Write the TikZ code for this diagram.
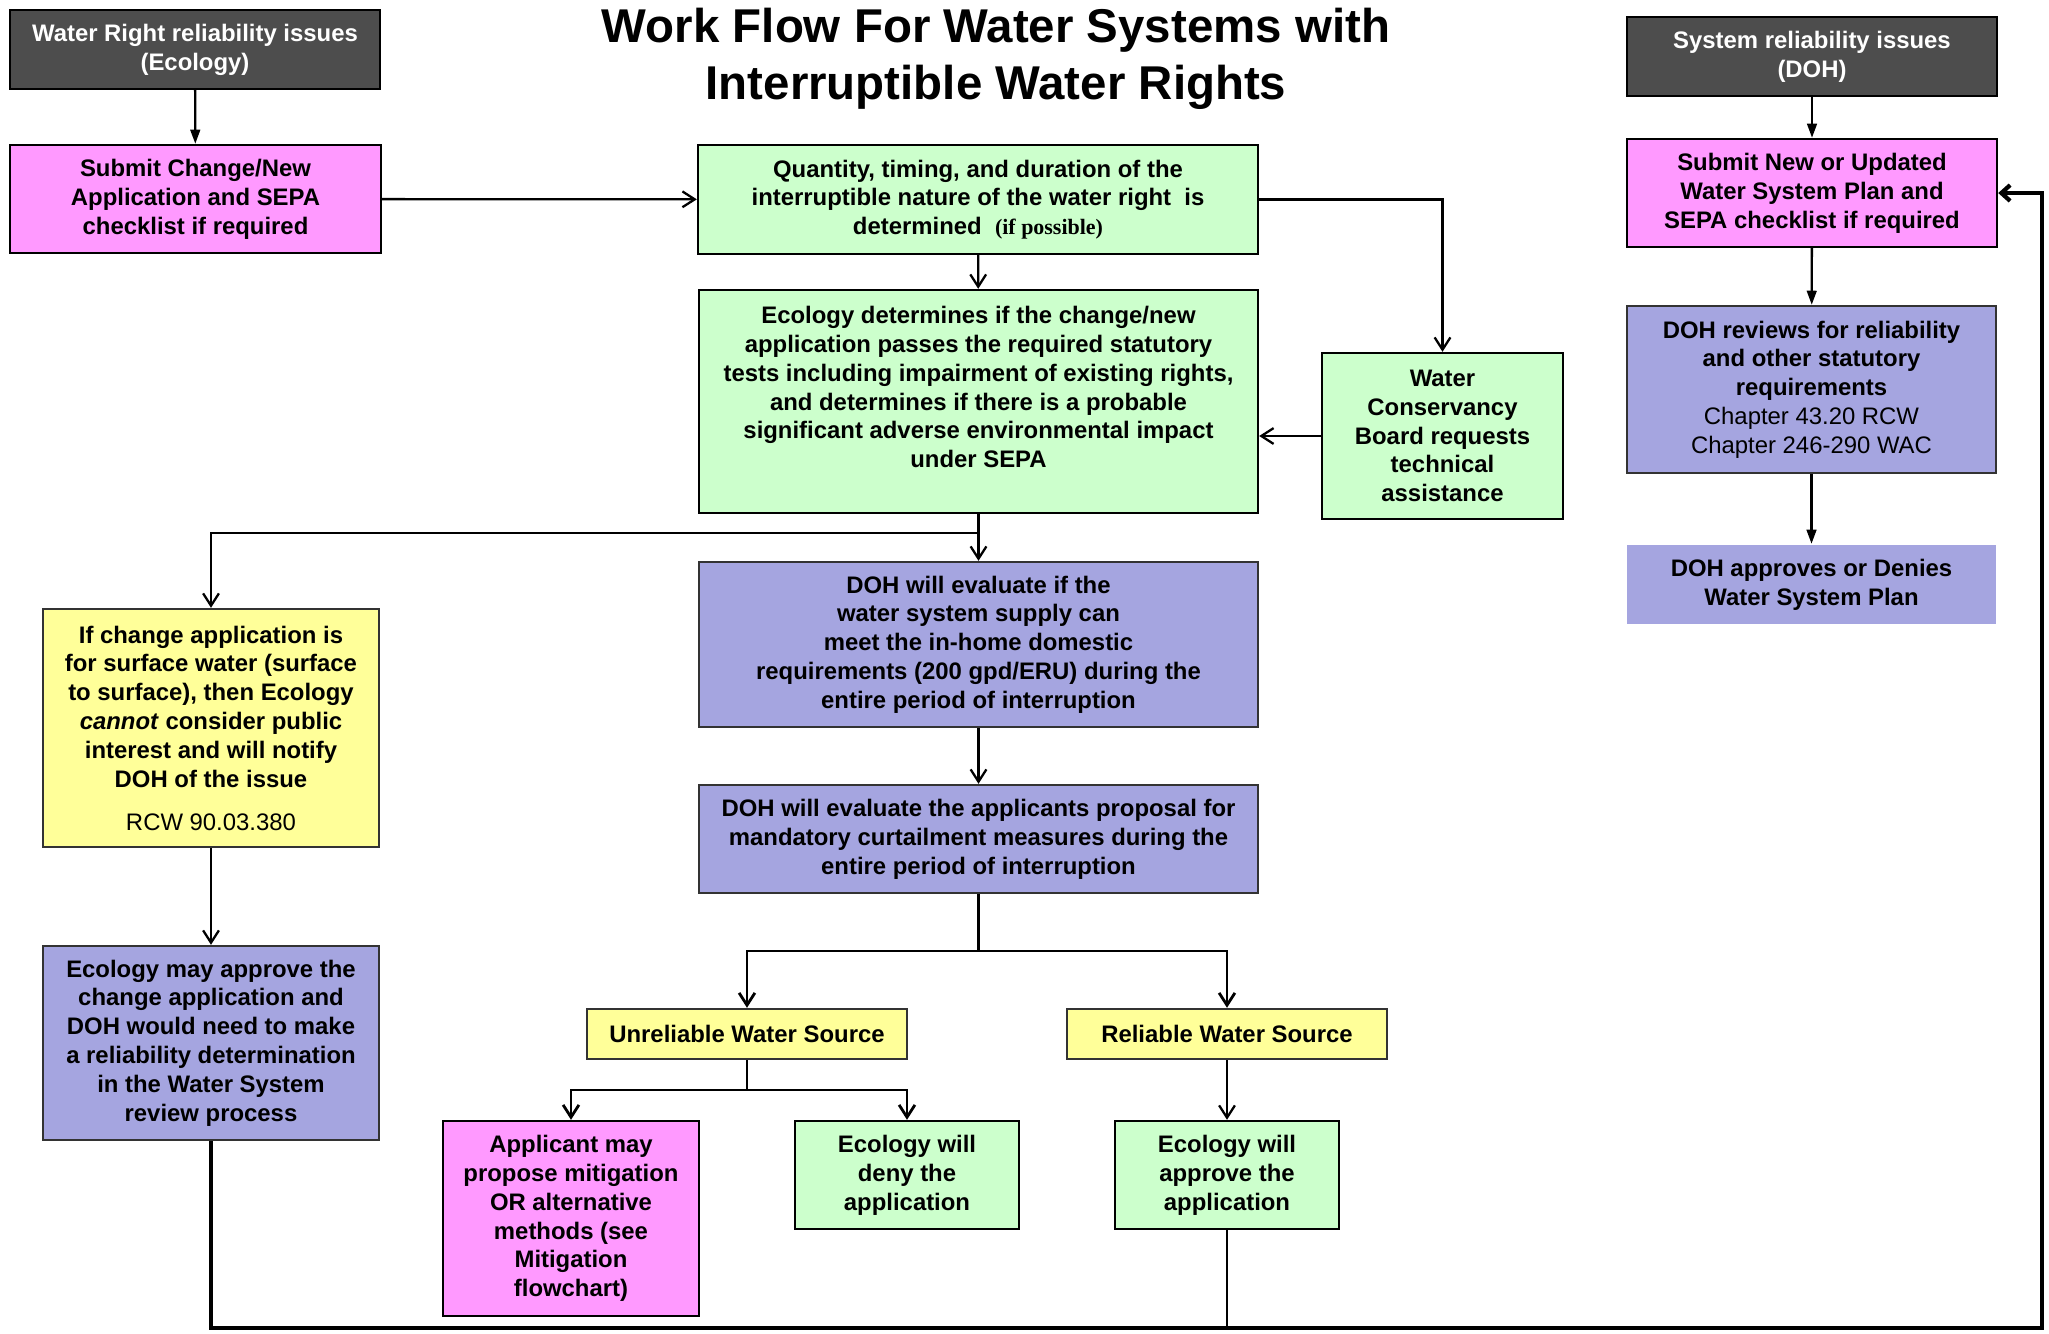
\documentclass[tikz,border=0pt]{standalone}
\usepackage{fontspec}
\setmainfont{Liberation Sans}
\newfontfamily\timesfont{Liberation Serif}
\usetikzlibrary{arrows.meta}

\definecolor{issuegray}{HTML}{4D4D4D}
\definecolor{submitpink}{HTML}{FF99FF}
\definecolor{ecogreen}{HTML}{CCFFCC}
\definecolor{dohpurple}{HTML}{A5A5E0}
\definecolor{noteyellow}{HTML}{FFFF99}

\begin{document}
\begin{tikzpicture}[x=0.02cm, y=-0.02cm,
  box/.style={draw=black, line width=1.4pt, align=center, inner sep=1pt,
    font=\fontsize{13.6}{16.4}\selectfont\bfseries},
  issuebox/.style={box, fill=issuegray, text=white},
  pinkbox/.style={box, fill=submitpink},
  greenbox/.style={box, fill=ecogreen},
  purplebox/.style={box, draw=black!80, fill=dohpurple},
  yellowbox/.style={box, draw=black!80, fill=noteyellow},
  flow/.style={line width=1.3pt, -{Straight Barb[length=7pt,width=9pt]}},
  branch/.style={flow, line width=1.6pt},
  solidflow/.style={line width=1.3pt, -{Triangle[length=8pt,width=5.5pt]}},
  feedback/.style={line width=2.4pt, -{Straight Barb[length=5pt,width=9pt]}}]
\useasboundingbox[fill=white] (0,0) rectangle (2049,1333);

% title
\node[align=center, font=\fontsize{27}{32.7}\selectfont\bfseries] (title) at (996,59)
  {Work Flow For Water Systems with\\Interruptible Water Rights};

% left column
\node[issuebox, minimum width=7.4cm, minimum height=1.58cm] (wri) at (195,49.5)
  {Water Right reliability issues\\(Ecology)};
\node[pinkbox, minimum width=7.42cm, minimum height=2.16cm] (subchg) at (195.5,199)
  {Submit Change/New\\Application and SEPA\\checklist if required};
\node[yellowbox, minimum width=6.72cm, minimum height=4.76cm] (surface) at (211,728)
  {If change application is\\for surface water (surface\\to surface), then Ecology\\
   \textit{cannot} consider public\\interest and will notify\\DOH of the issue\\[8pt]
   {\mdseries RCW 90.03.380}};
\node[purplebox, minimum width=6.72cm, minimum height=3.88cm] (ecomay) at (211,1043)
  {Ecology may approve the\\change application and\\DOH would need to make\\
   a reliability determination\\in the Water System\\review process};

% middle column
\node[greenbox, minimum width=11.2cm, minimum height=2.18cm] (quant) at (978,199.5)
  {Quantity, timing, and duration of the\\interruptible nature of the water right\ \ is\\
   determined\ \ {\timesfont\fontsize{12.5}{16.4}\selectfont (if possible)}};
\node[greenbox, minimum width=11.18cm, minimum height=4.46cm] (ecodet) at (978.5,401.5)
  {Ecology determines if the change/new\\application passes the required statutory\\
   tests including impairment of existing rights,\\and determines if there is a probable\\
   significant adverse environmental impact\\under SEPA\\ \mbox{}};
\node[greenbox, minimum width=4.82cm, minimum height=3.32cm] (wcb) at (1442.5,436)
  {Water\\Conservancy\\Board requests\\technical\\assistance};
\node[purplebox, minimum width=11.18cm, minimum height=3.3cm] (dohsupply) at (978.5,644.5)
  {DOH will evaluate if the\\water system supply can\\meet the in-home domestic\\
   requirements (200 gpd/ERU) during the\\entire period of interruption};
\node[purplebox, minimum width=11.18cm, minimum height=2.16cm] (dohcurtail) at (978.5,839)
  {DOH will evaluate the applicants proposal for\\mandatory curtailment measures during the\\
   entire period of interruption};

% bottom row
\node[yellowbox, minimum width=6.4cm, minimum height=1cm] (unrel) at (747,1034)
  {Unreliable Water Source};
\node[yellowbox, minimum width=6.4cm, minimum height=1cm] (rel) at (1227,1034)
  {Reliable Water Source};
\node[pinkbox, minimum width=5.12cm, minimum height=3.9cm] (mitig) at (571,1218.5)
  {Applicant may\\propose mitigation\\OR alternative\\methods (see\\Mitigation\\flowchart)};
\node[greenbox, minimum width=4.48cm, minimum height=2.16cm] (deny) at (907,1175)
  {Ecology will\\deny the\\application};
\node[greenbox, minimum width=4.48cm, minimum height=2.16cm] (approve) at (1227,1175)
  {Ecology will\\approve the\\application};

% right column
\node[issuebox, minimum width=7.4cm, minimum height=1.58cm] (sri) at (1812,56.5)
  {System reliability issues\\(DOH)};
\node[pinkbox, minimum width=7.4cm, minimum height=2.16cm] (subwsp) at (1812,193)
  {Submit New or Updated\\Water System Plan and\\SEPA checklist if required};
\node[purplebox, minimum width=7.38cm, minimum height=3.34cm] (dohrev) at (1811.5,389.5)
  {DOH reviews for reliability\\and other statutory\\requirements\\
   {\mdseries Chapter 43.20 RCW}\\{\mdseries Chapter 246-290 WAC}};
\node[purplebox, draw=none, minimum width=7.38cm, minimum height=1.58cm] (dohdec) at (1811.5,584.5)
  {DOH approves or Denies\\Water System Plan};

% split points
\coordinate (ecosplit) at (978.5,533);
\coordinate (srcsplit) at (978.5,951);
\coordinate (unrelsplit) at (747,1090);
\coordinate (bottomleft) at (211,1328);
\coordinate (bottomright) at (2042,1328);

% connectors
\draw[solidflow] (wri) -- (subchg);
\draw[solidflow] (sri) -- (subwsp);
\draw[solidflow] (subwsp) -- (dohrev);
\draw[solidflow] (dohrev) -- (dohdec);
\draw[flow] (subchg) -- (quant);
\draw[flow] (quant.east) -| (wcb.north);
\draw[flow] (quant) -- (ecodet);
\draw[flow] (wcb.west) -- (ecodet.east |- wcb.west);
\draw[flow] (ecodet) -- (dohsupply);
\draw[flow] (ecosplit) -| (surface.north);
\draw[flow] (surface) -- (ecomay);
\draw[flow] (dohsupply) -- (dohcurtail);
\draw[line width=1.6pt] (dohcurtail.south) -- (srcsplit);
\draw[branch] (srcsplit) -| (unrel.north);
\draw[branch] (srcsplit) -| (rel.north);
\draw[line width=1.6pt] (unrel.south) -- (unrelsplit);
\draw[branch] (unrelsplit) -| (mitig.north);
\draw[branch] (unrelsplit) -| (deny.north);
\draw[flow] (rel) -- (approve);
\draw[line width=1.3pt] (approve.south) -- (approve.south |- bottomright);
\draw[feedback] (ecomay.south) -- (bottomleft) -- (bottomright) |- (subwsp.east);
\end{tikzpicture}
\end{document}
